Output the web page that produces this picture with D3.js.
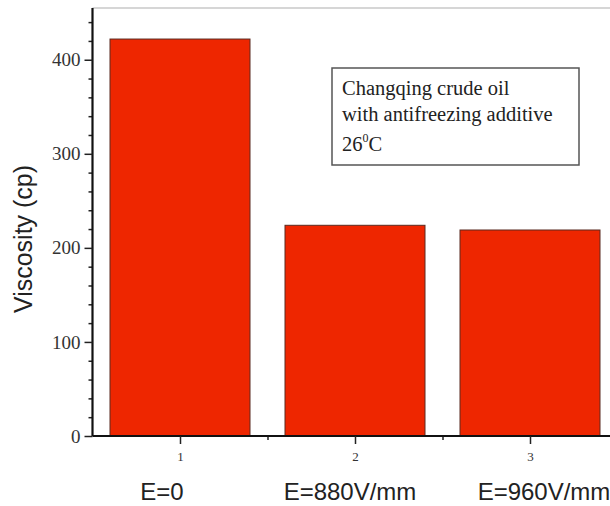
<!DOCTYPE html>
<html>
<head>
<meta charset="utf-8">
<script src="https://cdn.jsdelivr.net/npm/d3@7"></script>
<style>
  html, body { margin: 0; padding: 0; background: #fff; }
  svg { display: block; }
</style>
</head>
<body>
<svg id="chart" width="610" height="506"></svg>
<script>
// Viscosity of Changqing crude oil under different field strengths
const categories = [1, 2, 3];
const fieldLabels = ["E=0", "E=880V/mm", "E=960V/mm"];
const viscosity = [422, 224, 219];
const yMajorTicks = [0, 100, 200, 300, 400];
const yMinorTicks = [20, 40, 60, 80, 120, 140, 160, 180, 220, 240, 260, 280, 320, 340, 360, 380, 420, 440];
const xMinorTicks = [1.5, 2.5, 3.5];
const noteLines = ["Changqing crude oil", "with antifreezing additive"];

const svg = d3.select("#chart");
const W = 610, H = 506;
const plot = { left: 92.5, top: 8, bottom: 436 };

const x = d3.scaleLinear().domain([0.5, 3.5]).range([plot.left, plot.left + 525]);
const y = d3.scaleLinear().domain([0, 455]).range([plot.bottom, plot.top]);

const serif = "'Liberation Serif', 'Times New Roman', serif";
const sans = "'Liberation Sans', Arial, sans-serif";

// top frame line
svg.append("line")
  .attr("x1", plot.left).attr("x2", W)
  .attr("y1", plot.top).attr("y2", plot.top)
  .attr("stroke", "#c8c8c8").attr("stroke-width", 1.5);

// bars
const barW = x(1.4) - x(0.6);
svg.append("g").selectAll("rect")
  .data(categories)
  .join("rect")
  .attr("x", (d) => x(d - 0.4))
  .attr("width", barW)
  .attr("y", (d, i) => y(viscosity[i]))
  .attr("height", (d, i) => y(0) - y(viscosity[i]))
  .attr("fill", "#ee2600")
  .attr("stroke", "#5a2a20")
  .attr("stroke-width", 1);

// y axis: minor ticks then major ticks with labels
const yMinor = svg.append("g").attr("transform", `translate(${plot.left},0)`)
  .call(d3.axisLeft(y).tickValues(yMinorTicks).tickSize(4).tickFormat(""));
yMinor.select(".domain").remove();
yMinor.selectAll("line").attr("stroke", "#222").attr("stroke-width", 1.5);

const yAxis = svg.append("g").attr("transform", `translate(${plot.left},0)`)
  .call(d3.axisLeft(y).tickValues(yMajorTicks).tickSize(8).tickSizeOuter(0).tickPadding(4));
yAxis.select(".domain").attr("stroke", "#111").attr("stroke-width", 2.2)
  .attr("d", `M0,${plot.bottom}V${plot.top}`);
yAxis.selectAll(".tick line").attr("stroke", "#222").attr("stroke-width", 1.5);
yAxis.selectAll(".tick text")
  .attr("font-family", serif).attr("font-size", 19).attr("fill", "#333");

// x axis
const xMinor = svg.append("g").attr("transform", `translate(0,${plot.bottom})`)
  .call(d3.axisBottom(x).tickValues(xMinorTicks).tickSize(4).tickFormat(""));
xMinor.select(".domain").remove();
xMinor.selectAll("line").attr("stroke", "#222").attr("stroke-width", 1.5);

const xAxis = svg.append("g").attr("transform", `translate(0,${plot.bottom})`)
  .call(d3.axisBottom(x).tickValues(categories).tickSize(8).tickSizeOuter(0).tickPadding(8).tickFormat(d3.format("d")));
xAxis.select(".domain").attr("stroke", "#111").attr("stroke-width", 2.2)
  .attr("d", `M${plot.left},0H${W}`);
xAxis.selectAll(".tick line").attr("stroke", "#222").attr("stroke-width", 1.5);
xAxis.selectAll(".tick text")
  .attr("font-family", serif).attr("font-size", 13).attr("fill", "#333");

// field strength labels under each bar
const labelShift = [-18, -5, 14];
svg.append("g").selectAll("text")
  .data(categories)
  .join("text")
  .attr("x", (d, i) => x(d) + labelShift[i])
  .attr("y", 500)
  .attr("text-anchor", "middle")
  .attr("font-family", sans)
  .attr("font-size", 24)
  .attr("fill", "#222")
  .text((d, i) => fieldLabels[i]);

// y axis title
svg.append("text")
  .attr("transform", `translate(32,239) rotate(-90)`)
  .attr("text-anchor", "middle")
  .attr("font-family", sans)
  .attr("font-size", 25)
  .attr("fill", "#222")
  .text("Viscosity (cp)");

// annotation box
const note = svg.append("g").attr("transform", "translate(332,68)");
note.append("rect")
  .attr("width", 247).attr("height", 97)
  .attr("fill", "#fff").attr("stroke", "#555").attr("stroke-width", 1.5);
noteLines.forEach((t, i) => {
  note.append("text")
    .attr("x", 10).attr("y", 27 + i * 26)
    .attr("font-family", serif).attr("font-size", 20.5).attr("fill", "#222")
    .text(t);
});
const temp = note.append("text")
  .attr("x", 10).attr("y", 83)
  .attr("font-family", serif).attr("font-size", 20.5).attr("fill", "#222");
temp.append("tspan").text("26");
temp.append("tspan").attr("dy", -9).attr("font-size", 12).text("0");
temp.append("tspan").attr("dy", 9).text("C");
</script>
</body>
</html>
